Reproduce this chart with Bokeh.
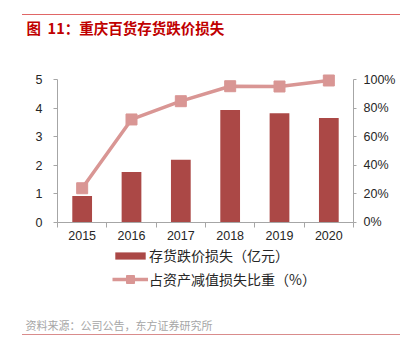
from bokeh.plotting import figure
from bokeh.models import (Range1d, LinearAxis, FixedTicker, Label, Legend, LegendItem)
from bokeh.embed import file_html
from bokeh.resources import INLINE

years = ["2015", "2016", "2017", "2018", "2019", "2020"]
loss = [0.92, 1.76, 2.19, 3.93, 3.82, 3.65]          # 亿元
share = [23.8, 72.0, 84.8, 95.3, 95.1, 99.3]         # %
left_ticks = [0, 1, 2, 3, 4, 5]
right_ticks = [0, 20, 40, 60, 80, 100]
title_text = "图\u00a0\u00a011：重庆百货存货跌价损失"
source_text = "资料来源：公司公告，东方证券研究所"
bar_label = "存货跌价损失（亿元）"
line_label = "占资产减值损失比重（%）"

BAR = "#ab4846"
LINE = "#d99694"
AX = "#a6a6a6"
TXT = "#262626"
CJK = "Noto Sans CJK SC"
LAT = "Liberation Sans"

# canvas and plot-area geometry (pixels)
W, H = 400, 356
PX0, PX1, PY_TOP, PY_BOT = 57, 353, 79, 221.7
n = len(years)
ymax, pmax = left_ticks[-1], right_ticks[-1]
xppu = (PX1 - PX0) / n
yppu = (PY_BOT - PY_TOP) / ymax
pppu = (PY_BOT - PY_TOP) / pmax

xs = [i + 0.5 for i in range(n)]

p = figure(width=W, height=H, output_backend="svg", toolbar_location=None,
           x_range=Range1d(-PX0 / xppu, n + (W - PX1) / xppu),
           y_range=Range1d(-(H - PY_BOT) / yppu, ymax + PY_TOP / yppu),
           min_border=0, x_axis_location=None, y_axis_location=None)
p.extra_y_ranges = {"pct": Range1d(-(H - PY_BOT) / pppu, pmax + PY_TOP / pppu)}
p.outline_line_color = None
p.grid.visible = False
p.border_fill_alpha = 0
p.background_fill_alpha = 0
p.styles = {
    "background-image": "linear-gradient(#e06666, #e06666), linear-gradient(#d98c8c, #d98c8c)",
    "background-size": "378px 1px, 378px 1px",
    "background-position": "22px 14px, 22px 334px",
    "background-repeat": "no-repeat",
}

xa = LinearAxis(fixed_location=0, bounds=(0, n),
                ticker=FixedTicker(ticks=xs, minor_ticks=list(range(n + 1))),
                major_label_overrides={x: y for x, y in zip(xs, years)})
xa.major_tick_line_color = None
xa.major_tick_out = 0
xa.major_tick_in = 0
xa.minor_tick_out = 5
xa.minor_tick_in = 0
xa.minor_tick_line_color = AX
xa.axis_line_color = AX
xa.major_label_standoff = 4
p.add_layout(xa, "below")

ya = LinearAxis(fixed_location=0, bounds=(0, ymax), ticker=FixedTicker(ticks=left_ticks))
ya.major_tick_out = 4
ya.major_tick_in = 0
ya.minor_tick_line_color = None
ya.major_tick_line_color = AX
ya.axis_line_color = AX
ya.major_label_standoff = 11
p.add_layout(ya, "left")

ra = LinearAxis(y_range_name="pct", fixed_location=n, bounds=(0, pmax),
                ticker=FixedTicker(ticks=right_ticks),
                major_label_overrides={v: f"{v}%" for v in right_ticks})
ra.major_tick_out = 3
ra.major_tick_in = 0
ra.minor_tick_line_color = None
ra.major_tick_line_color = AX
ra.axis_line_color = AX
ra.major_label_standoff = 7
p.add_layout(ra, "right")

for ax in (xa, ya, ra):
    ax.major_label_text_font = LAT
    ax.major_label_text_font_size = "12.5px"
    ax.major_label_text_color = TXT

bars = p.vbar(x=xs, top=loss, width=0.4, fill_color=BAR, line_color=None)
ln = p.line(xs, share, y_range_name="pct", line_width=3.5, line_color=LINE)
mk = p.scatter(xs, share, y_range_name="pct", marker="square", size=11,
               fill_color=LINE, line_color=LINE)

common = dict(padding=0, margin=0, border_line_color=None, background_fill_alpha=0,
              label_text_font=CJK, label_text_font_size="14px", label_text_color=TXT,
              label_height=20)
leg1 = Legend(items=[LegendItem(label=bar_label, renderers=[bars])],
              location=(111, 91), glyph_width=38, glyph_height=9, label_standoff=0, **common)
leg2 = Legend(items=[LegendItem(label=line_label, renderers=[ln, mk])],
              location=(112, 67.5), glyph_width=36, glyph_height=20, label_standoff=1, **common)
p.add_layout(leg1)
p.add_layout(leg2)

p.add_layout(Label(x=26, y=H - 27, x_units="screen", y_units="screen", text=title_text,
                   text_font=CJK, text_font_size="14.5px", text_font_style="bold",
                   text_color="#c00000", text_baseline="middle"))
p.add_layout(Label(x=25, y=H - 324, x_units="screen", y_units="screen", text=source_text,
                   text_font=CJK, text_font_size="11px", text_color="#a6a6a6",
                   text_baseline="middle"))

open("out.html", "w").write(file_html(p, INLINE))
